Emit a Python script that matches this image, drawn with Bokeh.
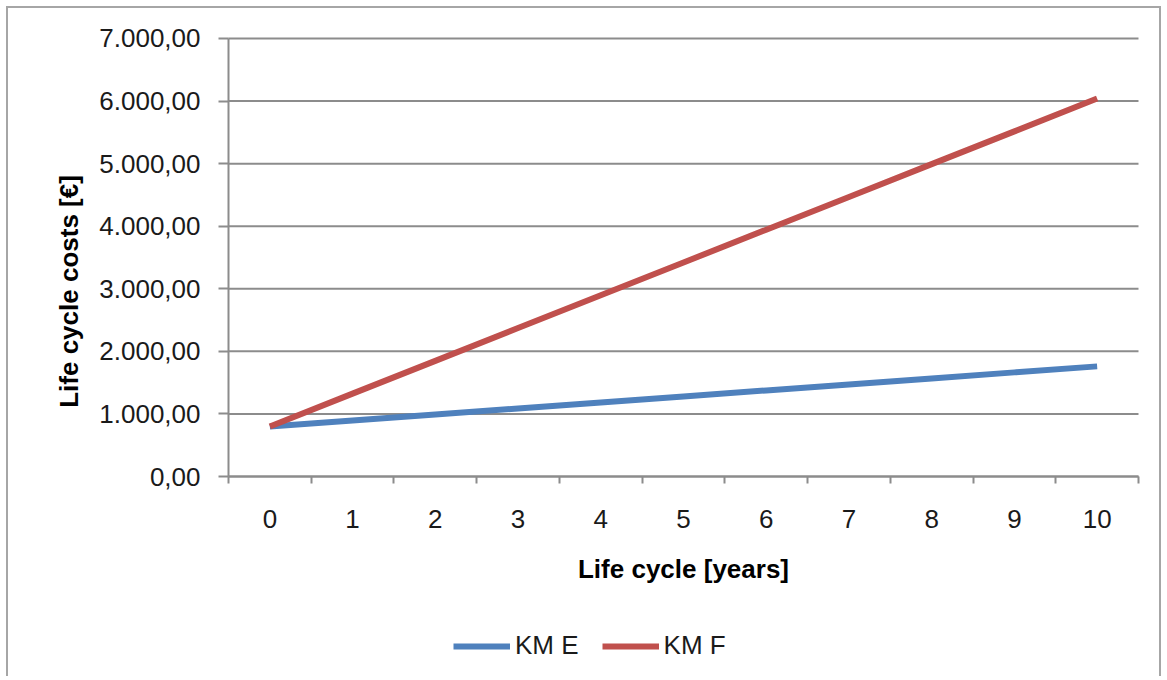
from bokeh.plotting import figure
from bokeh.models import FixedTicker, Legend, LegendItem, Range1d, Label, LinearAxis
from bokeh.embed import file_html
from bokeh.resources import INLINE
import math

years = [0, 1, 2, 3, 4, 5, 6, 7, 8, 9, 10]
km_e = [800, 896, 992, 1088, 1184, 1280, 1376, 1472, 1568, 1664, 1760]
km_f = [800, 1324, 1848, 2372, 2896, 3420, 3944, 4468, 4992, 5516, 6040]
y_ticks = [0, 1000, 2000, 3000, 4000, 5000, 6000, 7000]
y_tick_labels = ["0,00", "1.000,00", "2.000,00", "3.000,00", "4.000,00",
                 "5.000,00", "6.000,00", "7.000,00"]
series_names = ["KM E", "KM F"]
x_title = "Life cycle [years]"
y_title = "Life cycle costs [€]"

FONT = "Liberation Sans"
GRID = "#8c8c8c"
X_MIN, X_MAX = -0.5, 10.5

# the frame covers the whole canvas; axes are pinned at x=-0.5 and y=0
p = figure(width=1155, height=670, output_backend="svg", toolbar_location=None,
           x_range=Range1d(-3.1593, 10.8022), y_range=Range1d(-3228, 7479),
           x_axis_location=None, y_axis_location=None, min_border=0)
p.styles = {"border-top": "2px solid #a6a6a6", "border-left": "2px solid #a6a6a6",
            "border-right": "2px solid #a6a6a6", "margin-left": "6px",
            "margin-top": "6px"}
p.outline_line_color = None
p.background_fill_color = "white"
p.border_fill_color = "white"
p.xgrid.grid_line_color = None
p.ygrid.grid_line_color = None

# horizontal grid lines, only across the plot area
p.segment(x0=[X_MIN] * len(y_ticks), x1=[X_MAX] * len(y_ticks),
          y0=y_ticks, y1=y_ticks, line_color=GRID, line_width=2)

# y axis
ya = LinearAxis(fixed_location=X_MIN, bounds=(0, 7000))
ya.ticker = FixedTicker(ticks=y_ticks)
ya.major_label_overrides = {t: l for t, l in zip(y_ticks, y_tick_labels)}
ya.axis_line_color = GRID
ya.axis_line_width = 2
ya.major_tick_line_color = GRID
ya.major_tick_line_width = 2
ya.major_tick_out = 10
ya.major_tick_in = 0
ya.minor_tick_line_color = None
ya.major_label_standoff = 18
ya.major_label_text_font = FONT
ya.major_label_text_font_size = "26px"
ya.major_label_text_color = "#1a1a1a"
p.add_layout(ya, "left")

# x axis: labels at category centres, ticks between categories
xa = LinearAxis(fixed_location=0, bounds=(X_MIN, X_MAX))
xa.ticker = FixedTicker(ticks=years, minor_ticks=[y - 0.5 for y in years] + [10.5])
xa.axis_line_color = GRID
xa.axis_line_width = 2
xa.major_tick_line_color = None
xa.major_tick_out = 0
xa.major_tick_in = 0
xa.minor_tick_line_color = GRID
xa.minor_tick_line_width = 2
xa.minor_tick_out = 7
xa.minor_tick_in = 0
xa.major_label_standoff = 26
xa.major_label_text_font = FONT
xa.major_label_text_font_size = "26px"
xa.major_label_text_color = "#1a1a1a"
xa.axis_label = x_title
xa.axis_label_text_font = FONT
xa.axis_label_text_font_style = "bold"
xa.axis_label_text_font_size = "26px"
xa.axis_label_text_color = "black"
xa.axis_label_standoff = 23
p.add_layout(xa, "below")

# y title
p.add_layout(Label(x=-2.434, y=2957, text=y_title,
                   angle=math.pi / 2, text_align="center", text_baseline="middle",
                   text_font=FONT, text_font_style="bold", text_font_size="26px",
                   text_color="black"))

r_e = p.line(years, km_e, line_color="#4F81BD", line_width=6)
r_f = p.line(years, km_f, line_color="#C0504D", line_width=6)

legend = Legend(items=[LegendItem(label=series_names[0], renderers=[r_e]),
                       LegendItem(label=series_names[1], renderers=[r_f])],
                orientation="horizontal", location=(445, 17),
                padding=0, margin=0, spacing=23, label_standoff=5,
                glyph_width=57, glyph_height=28, label_height=28,
                border_line_color=None, background_fill_alpha=0,
                label_text_font=FONT, label_text_font_size="26px",
                label_text_color="#1a1a1a")
p.add_layout(legend, "center")

open("out.html", "w").write(file_html(p, INLINE))
